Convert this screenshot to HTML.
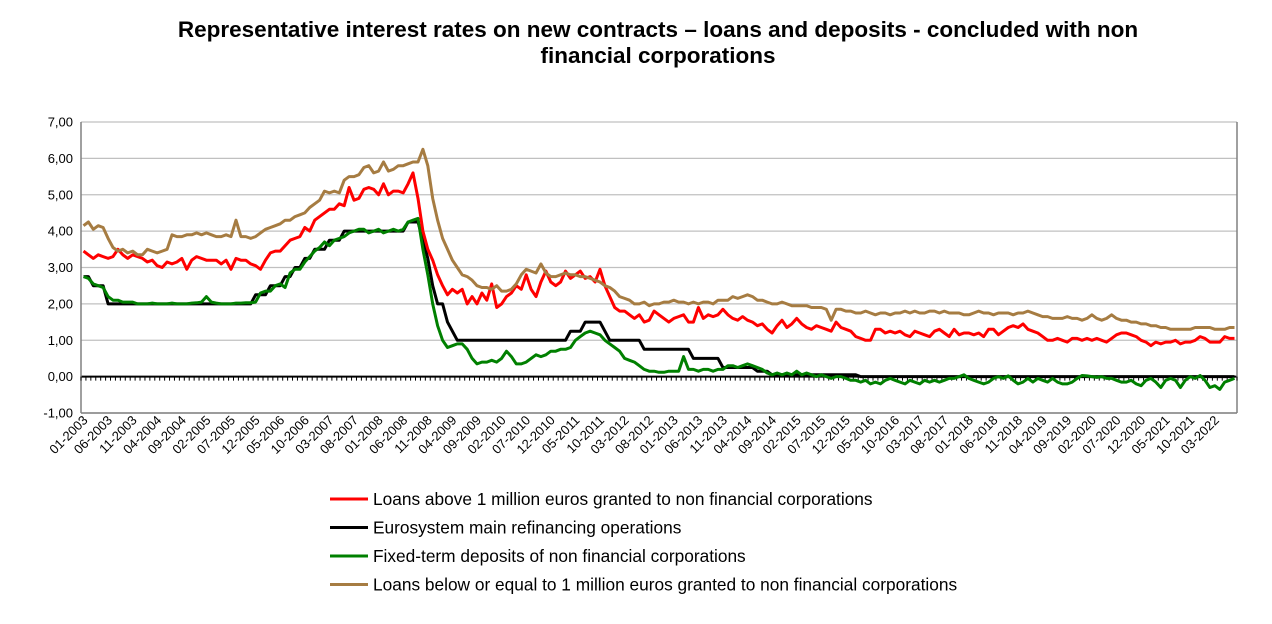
<!DOCTYPE html>
<html><head><meta charset="utf-8"><style>
body{margin:0;background:#fff;font-family:"Liberation Sans",Arial,sans-serif}
#title{position:absolute;left:0;top:17px;width:1316px;text-align:center;font-weight:bold;font-size:22.5px;line-height:26px;color:#000}
</style></head><body>
<div id="title">Representative interest rates on new contracts – loans and deposits - concluded with non<br>financial corporations</div>
<svg id="chart" width="1272" height="624" style="position:absolute;left:0;top:0;pointer-events:none" xmlns="http://www.w3.org/2000/svg"></svg>
<script>
const mro=[2.75,2.75,2.5,2.5,2.5,2,2,2,2,2,2,2, 2,2,2,2,2,2,2,2,2,2,2,2, 2,2,2,2,2,2,2,2,2,2,2,2.25,
2.25,2.25,2.5,2.5,2.5,2.75,2.75,3,3,3.25,3.25,3.5, 3.5,3.5,3.75,3.75,3.75,4,4,4,4,4,4,4, 4,4,4,4,4,4,4.25,4.25,4.25,3.75,3.25,2.5,
2,2,1.5,1.25,1,1,1,1,1,1,1,1, 1,1,1,1,1,1,1,1,1,1,1,1, 1,1,1,1.25,1.25,1.25,1.5,1.5,1.5,1.5,1.25,1,
1,1,1,1,1,1,0.75,0.75,0.75,0.75,0.75,0.75, 0.75,0.75,0.75,0.75,0.5,0.5,0.5,0.5,0.5,0.5,0.25,0.25, 0.25,0.25,0.25,0.25,0.25,0.15,0.15,0.15,0.05,0.05,0.05,0.05,
0.05,0.05,0.05,0.05,0.05,0.05,0.05,0.05,0.05,0.05,0.05,0.05, 0.05,0.05,0,0,0,0,0,0,0,0,0,0,
0,0,0,0,0,0,0,0,0,0,0,0, 0,0,0,0,0,0,0,0,0,0,0,0, 0,0,0,0,0,0,0,0,0,0,0,0, 0,0,0,0,0,0,0,0,0,0,0,0, 0,0,0,0,0,0,0,0,0,0,0,0, 0,0,0,0,0,0,0];
const deposits=[2.75,2.7,2.55,2.5,2.45,2.2,2.1,2.1,2.05,2.05,2.05,2.0, 2.0,2.0,2.02,2.0,2.0,2.0,2.02,2.0,2.0,2.0,2.02,2.03,
2.05,2.2,2.05,2.02,2.0,2.0,2.0,2.02,2.02,2.03,2.03,2.05, 2.3,2.35,2.35,2.5,2.55,2.45,2.85,2.95,2.95,3.15,3.3,3.45,
3.55,3.7,3.6,3.75,3.8,3.85,3.95,4.0,4.05,4.05,3.95,4.0, 4.05,3.95,4.0,4.05,4.0,4.05,4.25,4.3,4.35,3.5,2.8,2.0,
1.4,1.0,0.8,0.85,0.9,0.9,0.75,0.5,0.35,0.4,0.4,0.45, 0.4,0.5,0.7,0.55,0.35,0.35,0.4,0.5,0.6,0.55,0.6,0.7,
0.7,0.75,0.75,0.8,1.0,1.1,1.2,1.25,1.2,1.15,1.0,0.9, 0.8,0.7,0.5,0.45,0.4,0.3,0.2,0.15,0.15,0.12,0.12,0.15,
0.15,0.15,0.55,0.2,0.2,0.15,0.2,0.2,0.15,0.2,0.2,0.3, 0.3,0.25,0.3,0.35,0.3,0.25,0.2,0.1,0.05,0.1,0.05,0.1,
0.05,0.15,0.05,0.1,0.05,0.0,0.05,0.0,-0.05,0.0,0.0,-0.05, -0.1,-0.1,-0.15,-0.1,-0.2,-0.15,-0.2,-0.1,-0.05,-0.1,-0.15,-0.2,
-0.1,-0.15,-0.2,-0.1,-0.15,-0.1,-0.15,-0.1,-0.05,-0.05,0.0,0.05, -0.05,-0.1,-0.15,-0.2,-0.15,-0.05,0.0,-0.05,0.02,-0.1,-0.2,-0.15,
-0.05,-0.15,-0.05,-0.1,-0.15,-0.05,-0.15,-0.2,-0.2,-0.15,-0.05,0.03, 0.02,0.0,-0.02,0.0,-0.05,-0.05,-0.1,-0.15,-0.15,-0.1,-0.2,-0.25,
-0.1,-0.05,-0.15,-0.3,-0.1,-0.05,-0.1,-0.3,-0.1,0.0,-0.05,0.03, -0.1,-0.3,-0.25,-0.35,-0.15,-0.1,-0.05];
const loansLarge=[3.45,3.35,3.25,3.35,3.3,3.25,3.3,3.5,3.35,3.25,3.35,3.3, 3.25,3.15,3.2,3.05,3.0,3.15,3.1,3.15,3.25,2.95,3.2,3.3,
3.25,3.2,3.2,3.2,3.1,3.2,2.95,3.25,3.2,3.2,3.1,3.05, 2.95,3.2,3.4,3.45,3.45,3.6,3.75,3.8,3.85,4.1,4.0,4.3,
4.4,4.5,4.6,4.6,4.75,4.7,5.2,4.85,4.9,5.15,5.2,5.15, 5.0,5.3,5.0,5.1,5.1,5.05,5.3,5.6,4.9,4.0,3.5,3.2,
2.8,2.5,2.25,2.4,2.3,2.4,2.0,2.2,2.0,2.3,2.1,2.55, 1.9,2.0,2.2,2.3,2.5,2.4,2.8,2.4,2.2,2.6,2.9,2.6,
2.5,2.6,2.9,2.7,2.8,2.9,2.7,2.75,2.6,2.95,2.5,2.2, 1.9,1.8,1.8,1.7,1.6,1.7,1.5,1.55,1.8,1.7,1.6,1.5,
1.6,1.65,1.7,1.5,1.5,1.9,1.6,1.7,1.65,1.7,1.85,1.7, 1.6,1.55,1.65,1.55,1.5,1.4,1.45,1.3,1.2,1.4,1.55,1.35,
1.45,1.6,1.45,1.35,1.3,1.4,1.35,1.3,1.25,1.5,1.35,1.3, 1.25,1.1,1.05,1.0,1.0,1.3,1.3,1.2,1.25,1.2,1.25,1.15,
1.1,1.25,1.2,1.15,1.1,1.25,1.3,1.2,1.1,1.3,1.15,1.2, 1.2,1.15,1.2,1.1,1.3,1.3,1.15,1.25,1.35,1.4,1.35,1.45,
1.3,1.25,1.2,1.1,1.0,1.0,1.05,1.0,0.95,1.05,1.05,1.0, 1.05,1.0,1.05,1.0,0.95,1.05,1.15,1.2,1.2,1.15,1.1,1.0,
0.95,0.85,0.95,0.9,0.95,0.95,1.0,0.9,0.95,0.95,1.0,1.1, 1.05,0.95,0.95,0.95,1.1,1.05,1.05];
const loansSmall=[4.15,4.25,4.05,4.15,4.1,3.8,3.55,3.45,3.5,3.4,3.45,3.35, 3.35,3.5,3.45,3.4,3.45,3.5,3.9,3.85,3.85,3.9,3.9,3.95,
3.9,3.95,3.9,3.85,3.85,3.9,3.85,4.3,3.85,3.85,3.8,3.85, 3.95,4.05,4.1,4.15,4.2,4.3,4.3,4.4,4.45,4.5,4.65,4.75,
4.85,5.1,5.05,5.1,5.05,5.4,5.5,5.5,5.55,5.75,5.8,5.6, 5.65,5.9,5.65,5.7,5.8,5.8,5.85,5.9,5.9,6.25,5.8,4.9,
4.3,3.8,3.5,3.2,3.0,2.8,2.75,2.65,2.5,2.45,2.45,2.4, 2.5,2.35,2.35,2.4,2.55,2.8,2.95,2.9,2.85,3.1,2.85,2.75,
2.75,2.8,2.85,2.8,2.8,2.75,2.75,2.7,2.65,2.6,2.5,2.45, 2.35,2.2,2.15,2.1,2.0,2.0,2.05,1.95,2.0,2.0,2.05,2.05,
2.1,2.05,2.05,2.0,2.05,2.0,2.05,2.05,2.0,2.1,2.1,2.1, 2.2,2.15,2.2,2.25,2.2,2.1,2.1,2.05,2.0,2.0,2.05,2.0,
1.95,1.95,1.95,1.95,1.9,1.9,1.9,1.85,1.55,1.85,1.85,1.8, 1.8,1.75,1.75,1.8,1.75,1.7,1.75,1.75,1.7,1.75,1.75,1.8,
1.75,1.8,1.75,1.75,1.8,1.8,1.75,1.8,1.75,1.75,1.75,1.7, 1.7,1.75,1.8,1.75,1.75,1.7,1.75,1.75,1.75,1.7,1.75,1.75,
1.8,1.75,1.7,1.65,1.65,1.6,1.6,1.6,1.65,1.6,1.6,1.55, 1.6,1.7,1.6,1.55,1.6,1.7,1.6,1.55,1.55,1.5,1.5,1.45,
1.45,1.4,1.4,1.35,1.35,1.3,1.3,1.3,1.3,1.3,1.35,1.35, 1.35,1.35,1.3,1.3,1.3,1.35,1.35];
const yTicks=[-1,0,1,2,3,4,5,6,7];
const startYear=2003, startMonth=1, labelEvery=5;
const seriesNames=["Loans above 1 million euros granted to non financial corporations","Eurosystem main refinancing operations","Fixed-term deposits of non financial corporations","Loans below or equal to 1 million euros granted to non financial corporations"];

const NS="http://www.w3.org/2000/svg";
const svg=document.getElementById('chart');
const L=81,R=1237,T=122,B=413,yMin=-1,yMax=7;
const N=mro.length;
const xs=i=>L+(i+0.5)*(R-L)/N;
const ys=v=>B-(v-yMin)/(yMax-yMin)*(B-T);
function mk(tag,a){const e=document.createElementNS(NS,tag);for(const k in a)e.setAttribute(k,a[k]);svg.appendChild(e);return e;}
yTicks.forEach(v=>{
  const g=mk('line',{x1:L,x2:R,y1:ys(v),y2:ys(v),stroke:v===0?'#000':'#c0c0c0','stroke-width':v===0?2:1.3});
  
  
  const t=mk('text',{x:L-8,y:ys(v)+4.5,'text-anchor':'end','font-size':13,'font-family':'Liberation Sans,Arial,sans-serif'});
  t.textContent=v.toFixed(2).replace('.',',');
  
  
});
const la=mk('line',{x1:L,x2:L,y1:T,y2:B,stroke:'#808080','stroke-width':1.5});


const rb=mk('line',{x1:R,x2:R,y1:T,y2:B,stroke:'#808080','stroke-width':1.5});


const bb=mk('line',{x1:L,x2:R,y1:B,y2:B,stroke:'#808080','stroke-width':1.5});


for(let i=0;i<=N;i++){
  const x=L+i*(R-L)/N;
  const tk=mk('line',{x1:x,x2:x,y1:ys(0),y2:ys(0)+4,stroke:'#000','stroke-width':1});
  
  
}
for(let i=0;i<N;i+=labelEvery){
  const m=(startMonth-1+i)%12+1,y=startYear+Math.floor((startMonth-1+i)/12);
  const lab=(m<10?'0':'')+m+'-'+y;
  const x=xs(i)+5,yy=421;
  const t=mk('text',{x:x,y:yy,'text-anchor':'end','font-size':13,'font-family':'Liberation Sans,Arial,sans-serif',transform:`rotate(-45 ${x} ${yy})`});
  t.textContent=lab;
  
  
}
const colors=['#ff0000','#000000','#008000','#a67c42'];
const datas=[loansLarge,mro,deposits,loansSmall];
const order=[1,2,0,3];
order.forEach(k=>{
  const d=datas[k].map((v,i)=>(i?'L':'M')+xs(i).toFixed(1)+' '+ys(v).toFixed(1)).join(' ');
  const p=mk('path',{d:d,fill:'none',stroke:colors[k],'stroke-width':3,'stroke-linejoin':'round'});
  
  
});
seriesNames.forEach((n,k)=>{
  const y=499+k*28.5;
  const l=mk('line',{x1:330,x2:368,y1:y,y2:y,stroke:colors[k],'stroke-width':3});
  
  
  const t=mk('text',{x:373,y:y+6,'font-size':17.3,'font-family':'Liberation Sans,Arial,sans-serif'});
  t.textContent=n;
  
  
});
</script>
</body></html>
